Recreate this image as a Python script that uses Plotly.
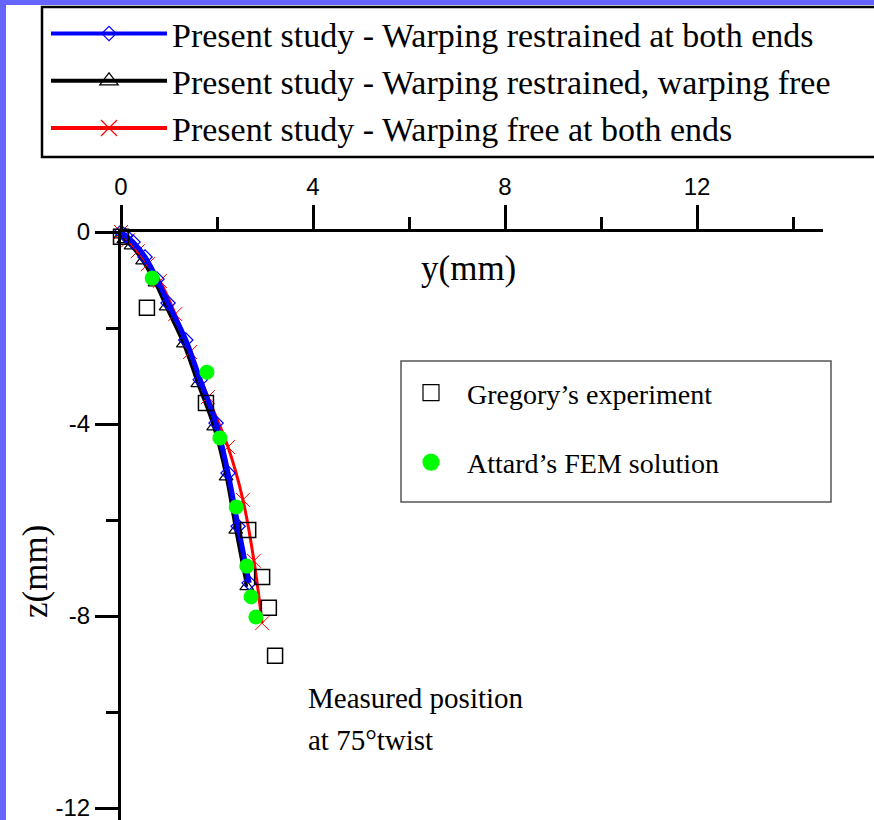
import plotly.graph_objects as go

# ---------------- data ----------------
blue_y = [0.00, 0.10, 0.25, 0.50, 0.75, 0.98, 1.35, 1.65, 1.98, 2.23, 2.44, 2.67]
blue_z = [0.00, -0.08, -0.21, -0.52, -0.98, -1.48, -2.25, -3.08, -3.98, -5.02, -6.13, -7.31]

black_y = [0.00, 0.06, 0.21, 0.45, 0.71, 0.94, 1.30, 1.60, 1.93, 2.19, 2.39, 2.62]
black_z = [-0.06, -0.16, -0.29, -0.60, -1.06, -1.56, -2.33, -3.16, -4.06, -5.10, -6.21, -7.39]

red_y = [0.00, 0.15, 0.35, 0.56, 0.81, 1.13, 1.44, 1.81, 2.23, 2.54, 2.77, 2.94]
red_z = [0.00, -0.17, -0.40, -0.67, -1.02, -1.71, -2.50, -3.44, -4.48, -5.58, -6.85, -8.15]

greg_y = [0.00, 0.54, 1.77, 2.65, 2.94, 3.08, 3.21]
greg_z = [-0.10, -1.58, -3.56, -6.21, -7.19, -7.83, -8.83]

att_y = [0.65, 1.79, 2.06, 2.40, 2.62, 2.71, 2.81]
att_z = [-0.96, -2.92, -4.29, -5.73, -6.96, -7.60, -8.02]

x_tickvals = [0, 4, 8, 12]
x_ticktext = ["0", "4", "8", "12"]
x_minor = [2, 6, 10, 14]
y_tickvals = [0, -4, -8, -12]
y_ticktext = ["0", "-4", "-8", "-12"]
y_minor = [-2, -6, -10]

names = [
    "Present study - Warping restrained at both ends",
    "Present study - Warping restrained, warping free",
    "Present study - Warping free at both ends",
    "Gregory\u2019s experiment",
    "Attard\u2019s FEM solution",
]

# ---------------- layout geometry ----------------
W, H = 874, 820
ML, MR, MT, MB = 121, 51, 232, 0
PW, PH = W - ML - MR, H - MT - MB


def px(x):
    return (x - ML) / PW


def py(y):
    return (H - MB - y) / PH


SERIF = "Liberation Serif, Times New Roman, serif"
SANS = "Liberation Sans, Arial, sans-serif"

BLUE, BLACK, RED, GREEN = "#0000ff", "black", "#ff0000", "#00ff00"

fig = go.Figure()

# data traces (drawing order: black, red, blue, then the point sets)
fig.add_trace(go.Scatter(
    x=black_y, y=black_z, mode="lines+markers", name=names[1], showlegend=False,
    line=dict(color=BLACK, width=3, shape="spline"),
    marker=dict(symbol="triangle-up-open", size=12, color=BLACK, line=dict(width=1.2, color=BLACK)),
    cliponaxis=False,
))
fig.add_trace(go.Scatter(
    x=red_y, y=red_z, mode="lines+markers", name=names[2], showlegend=False,
    line=dict(color=RED, width=3, shape="spline"),
    marker=dict(symbol="x-thin-open", size=14, color=RED, line=dict(width=1, color=RED)),
    cliponaxis=False,
))
fig.add_trace(go.Scatter(
    x=blue_y, y=blue_z, mode="lines+markers", name=names[0], showlegend=False,
    line=dict(color=BLUE, width=5, shape="spline"),
    marker=dict(symbol="diamond-open", size=11, color=BLUE, line=dict(width=1.2, color=BLUE)),
    cliponaxis=False,
))
fig.add_trace(go.Scatter(
    x=greg_y, y=greg_z, mode="markers", name=names[3], showlegend=False,
    marker=dict(symbol="square-open", size=15, color=BLACK, line=dict(width=1.5, color="#222")),
    cliponaxis=False,
))
fig.add_trace(go.Scatter(
    x=att_y, y=att_z, mode="markers", name=names[4], showlegend=False,
    marker=dict(symbol="circle", size=15, color=GREEN),
    cliponaxis=False,
))

# legend keys (no data of their own, they only style the legend entries)
legend_keys = [
    (names[0], "lines+markers", BLUE, "diamond-open", 11, "legend", None),
    (names[1], "lines+markers", BLACK, "triangle-up-open", 30, "legend", None),
    (names[2], "lines+markers", RED, "x-thin-open", 30, "legend", None),
    (names[3], "markers", BLACK, "square-open", 30, "legend2", "g"),
    (names[4], "markers", GREEN, "circle", 30, "legend2", "a"),
]
for nm, mode, col, sym, sz, lg, grp in legend_keys:
    fig.add_trace(go.Scatter(
        x=[None], y=[None], mode=mode, name=nm, legend=lg, legendgroup=grp,
        line=dict(color=col, width=4),
        marker=dict(symbol=sym, size=sz, color=col, line=dict(width=1.2, color=col)),
    ))

shapes = [
    # white page over the blue frame
    dict(type="rect", xref="paper", yref="paper", x0=px(6), x1=px(900), y0=py(840), y1=py(5),
         fillcolor="white", line=dict(width=0), layer="below"),
    # legend boxes
    dict(type="rect", xref="paper", yref="paper", x0=px(42), x1=px(900), y0=py(157), y1=py(7),
         fillcolor="white", line=dict(width=2.5, color="black"), layer="below"),
    dict(type="rect", xref="paper", yref="paper", x0=px(401), x1=px(831), y0=py(502), y1=py(361),
         fillcolor="rgba(0,0,0,0)", line=dict(width=1.5, color="#555"), layer="below"),
]

annotations = [
    dict(text="y(mm)", x=px(468), y=py(268), xref="paper", yref="paper", showarrow=False,
         font=dict(family=SERIF, size=35, color="black"), xanchor="center", yanchor="middle"),
    dict(text="z(mm)", x=px(35), y=py(572), xref="paper", yref="paper", showarrow=False, textangle=-90,
         font=dict(family=SERIF, size=35, color="black"), xanchor="center", yanchor="middle"),
    dict(text="Measured position", x=px(306), y=py(698), xref="paper", yref="paper", showarrow=False,
         font=dict(family=SERIF, size=29, color="black"), xanchor="left", yanchor="middle"),
    dict(text="at 75\u00b0twist", x=px(306), y=py(740), xref="paper", yref="paper", showarrow=False,
         font=dict(family=SERIF, size=29, color="black"), xanchor="left", yanchor="middle"),
]

fig.update_layout(
    width=W, height=H,
    margin=dict(l=ML, r=MR, t=MT, b=MB, autoexpand=False),
    paper_bgcolor="#6666ff",
    plot_bgcolor="white",
    shapes=shapes,
    annotations=annotations,
    showlegend=True,
    legend=dict(x=px(46), y=py(5), xanchor="left", yanchor="top", xref="paper", yref="paper",
                bgcolor="rgba(0,0,0,0)", borderwidth=0, itemwidth=116, traceorder="normal",
                font=dict(family=SERIF, size=34, color="black")),
    legend2=dict(x=px(395), y=py(368), xanchor="left", yanchor="top", xref="paper", yref="paper",
                 bgcolor="rgba(0,0,0,0)", borderwidth=0, itemwidth=62, tracegroupgap=30,
                 font=dict(family=SERIF, size=28, color="black")),
    xaxis=dict(range=[0, PW / 48.0], side="top", showgrid=False, zeroline=False,
               showline=True, linecolor="black", linewidth=3,
               ticks="outside", ticklen=24, tickwidth=3, tickcolor="black",
               tickmode="array", tickvals=x_tickvals, ticktext=x_ticktext,
               ticklabeloverflow="allow",
               tickfont=dict(family=SANS, size=24, color="black"),
               minor=dict(tickmode="array", tickvals=x_minor, ticks="outside", ticklen=12,
                          tickwidth=3, tickcolor="black", showgrid=False)),
    yaxis=dict(range=[-PH / 48.0, 0], showgrid=False, zeroline=False,
               showline=True, linecolor="black", linewidth=3,
               ticks="outside", ticklen=23, tickwidth=3, tickcolor="black",
               tickmode="array", tickvals=y_tickvals, ticktext=y_ticktext,
               ticklabeloverflow="allow",
               tickfont=dict(family=SANS, size=24, color="black"),
               minor=dict(tickmode="array", tickvals=y_minor, ticks="outside", ticklen=12,
                          tickwidth=3, tickcolor="black", showgrid=False)),
)

fig.write_html("out.html")
